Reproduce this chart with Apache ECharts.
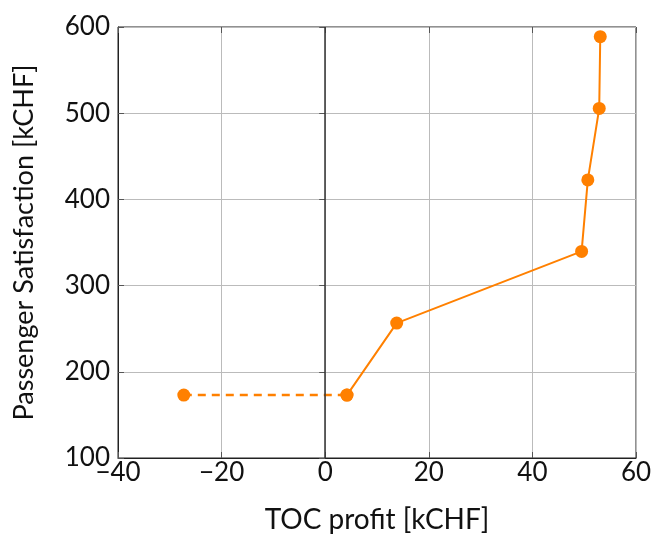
<!DOCTYPE html>
<html>
<head>
<meta charset="utf-8">
<script src="https://cdn.jsdelivr.net/npm/echarts@6/dist/echarts.min.js"></script>
<style>
  html, body { margin: 0; padding: 0; background: #fff; }
  #chart { width: 653px; height: 537px; }
</style>
</head>
<body>
<div id="chart"></div>
<script>
// TOC profit [kCHF] vs passenger satisfaction [kCHF]
const profit = [-27.3, 4.2, 13.8, 49.5, 50.7, 52.9, 53.1]
const satisfaction = [173, 173, 256.5, 339.7, 422.6, 505.5, 588.8]
const xTicks = [-40, 60, 20]   // min, max, interval
const yTicks = [100, 600, 100]

const orange = '#ff8000'
const font = 'Lato, "DejaVu Sans", sans-serif'

// first segment dashed, the rest solid
const dashedPart = profit.slice(0, 2).map((x, i) => [x, satisfaction[i]])
const solidPart = profit.slice(1).map((x, i) => [x, satisfaction[i + 1]])

const tickStyle = { inside: true, length: 6, lineStyle: { color: '#555', width: 1 } }

const chart = echarts.init(document.getElementById('chart'))
chart.setOption({
  animation: false,
  grid: {
    left: 118, right: 17, top: 27, bottom: 79,
    outerBoundsMode: 'none',
    containLabel: false,
    show: true, borderColor: '#222', borderWidth: 1
  },
  xAxis: [
    {
      type: 'value',
      min: xTicks[0], max: xTicks[1], interval: xTicks[2],
      name: 'TOC profit [kCHF]',
      nameLocation: 'middle',
      nameGap: 48,
      nameTextStyle: { fontFamily: font, fontSize: 28, color: '#111' },
      axisLine: { onZero: false, lineStyle: { color: '#222' } },
      axisTick: tickStyle,
      axisLabel: {
        fontFamily: font, fontSize: 26, color: '#111', margin: 2,
        formatter: v => (v < 0 ? '\u2212' + Math.abs(v) : '' + v)
      },
      splitLine: { lineStyle: { color: '#bbb', width: 1 } }
    },
    {
      type: 'value', position: 'top',
      min: xTicks[0], max: xTicks[1], interval: xTicks[2],
      axisLine: { show: false },
      axisTick: tickStyle,
      axisLabel: { show: false },
      splitLine: { show: false }
    }
  ],
  yAxis: [
    {
      type: 'value',
      min: yTicks[0], max: yTicks[1], interval: yTicks[2],
      name: 'Passenger Satisfaction [kCHF]',
      nameLocation: 'middle',
      nameGap: 80,
      nameTextStyle: { fontFamily: font, fontSize: 27, color: '#111' },
      axisLine: { show: true, onZero: false, lineStyle: { color: '#222' } },
      axisTick: tickStyle,
      axisLabel: { fontFamily: font, fontSize: 26, color: '#111', margin: 8 },
      splitLine: { lineStyle: { color: '#bbb', width: 1 } }
    },
    {
      type: 'value', position: 'right',
      min: yTicks[0], max: yTicks[1], interval: yTicks[2],
      axisLine: { show: false },
      axisTick: tickStyle,
      axisLabel: { show: false },
      splitLine: { show: false }
    }
  ],
  series: [
    {
      type: 'line',
      data: dashedPart,
      symbol: 'circle',
      symbolSize: 13,
      itemStyle: { color: orange },
      lineStyle: { color: orange, width: 2.5, type: [8, 6] },
      z: 3,
      markLine: {
        silent: true,
        symbol: 'none',
        label: { show: false },
        lineStyle: { color: '#333', width: 1.5, type: 'solid' },
        data: [{ xAxis: 0 }]
      }
    },
    {
      type: 'line',
      data: solidPart,
      symbol: 'circle',
      symbolSize: 13,
      itemStyle: { color: orange },
      lineStyle: { color: orange, width: 2 },
      z: 4
    }
  ]
})
</script>
</body>
</html>
